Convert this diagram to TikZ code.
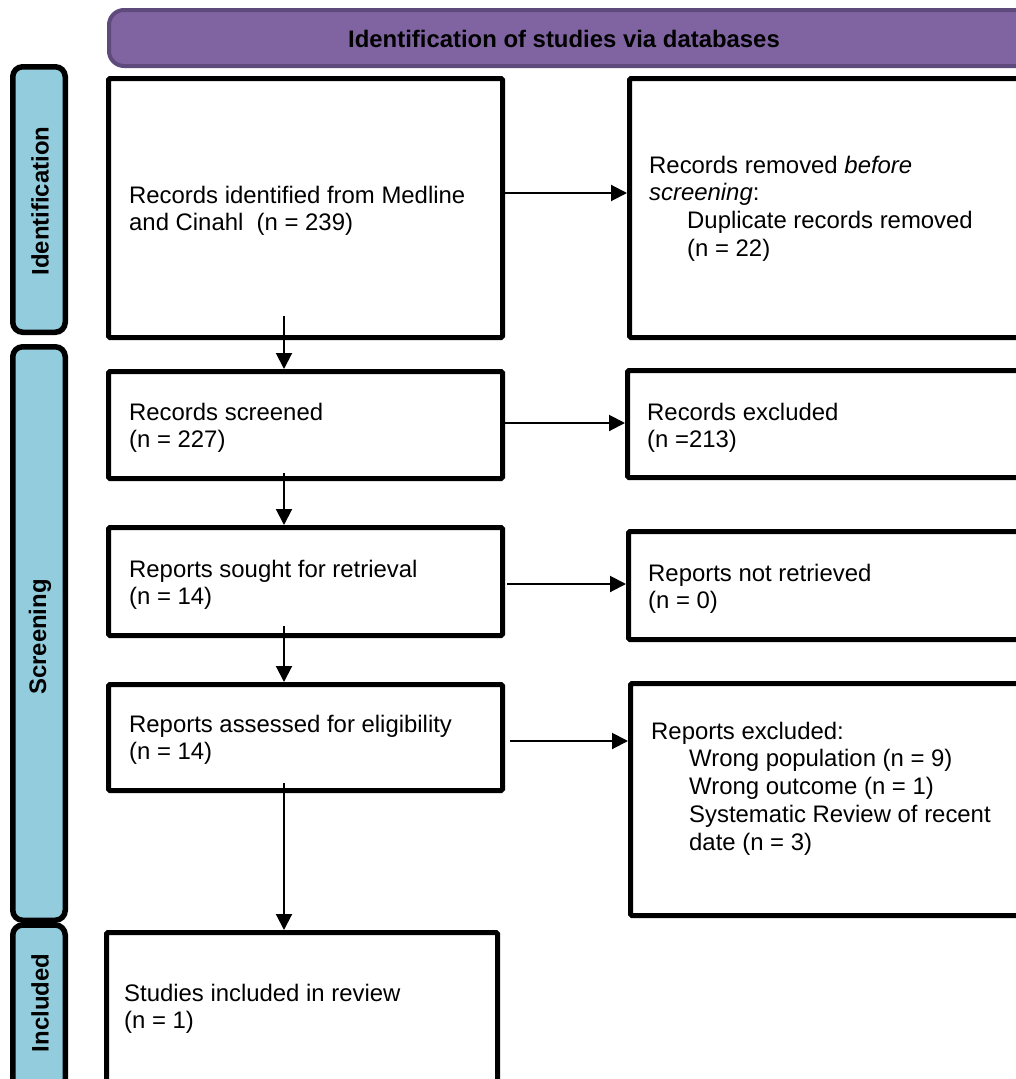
\documentclass[tikz,border=0pt]{standalone}
\usepackage{fontspec}
\setmainfont{Liberation Sans}
\usetikzlibrary{arrows.meta}
\definecolor{hdrfill}{HTML}{8064A2}
\definecolor{hdrline}{HTML}{5F4B7B}
\definecolor{sidefill}{HTML}{93CDDD}
\newcommand{\tlines}[1]{\vtop{\baselineskip=27.8pt\halign{##\hfil\cr#1\crcr}}}
\begin{document}
\begin{tikzpicture}[x=1pt,y=-1pt,
  box/.style={draw=black,line width=5pt,inner sep=0pt,rounded corners=1.5pt},
  txt/.style={anchor=base west,inner sep=0pt,font=\fontsize{23.9}{27.8}\selectfont},
  side/.style={draw=black,line width=5.5pt,fill=sidefill,rounded corners=10pt,inner sep=0pt},
  sidetxt/.style={rotate=90,inner sep=0pt,font=\bfseries\fontsize{23.9}{28}\selectfont},
  hdr/.style={draw=hdrline,line width=4pt,fill=hdrfill,rounded corners=15pt,inner sep=0pt},
  arr/.style={line width=2pt,-{Triangle[length=16pt,width=16pt]}},
]
\useasboundingbox (0,0) rectangle (1015,1079);

% header
\node[hdr,minimum width=931pt,minimum height=56pt] (hdr) at (574.5,38) {};
\node[inner sep=0pt,font=\bfseries\fontsize{23.9}{28}\selectfont] (hdrtxt) at (564,39) {Identification of studies via databases};

% side bars
\node[side,minimum width=52.5pt,minimum height=265.5pt] (sid) at (39,199.5) {};
\node[sidetxt] (sidt) at (40,201) {Identification};
\node[side,minimum width=52.5pt,minimum height=573.5pt] (sscr) at (39,633.5) {};
\node[sidetxt] (sscrt) at (40,637) {Screening};
\node[side,minimum width=52.5pt,minimum height=190pt] (sinc) at (39,1020) {};
\node[sidetxt] (sinct) at (40,1003) {Included};

% left column boxes
\node[box,minimum width=394pt,minimum height=259pt] (b1) at (305.5,208) {};
\node[box,minimum width=394pt,minimum height=107pt] (b2) at (305.5,425) {};
\node[box,minimum width=394pt,minimum height=108pt] (b3) at (305.5,581.5) {};
\node[box,minimum width=394pt,minimum height=106pt] (b4) at (305.5,737.5) {};
\node[box,minimum width=391pt,minimum height=177.5pt] (b5) at (302,1021.25) {};

% right column boxes
\node[box,minimum width=400.5pt,minimum height=259pt] (rem) at (829.75,208) {};
\node[box,minimum width=402.5pt,minimum height=107pt] (exc) at (828.75,424) {};
\node[box,minimum width=401.5pt,minimum height=108pt] (nr) at (829.25,585.5) {};
\node[box,minimum width=399.5pt,minimum height=232pt] (rx) at (830.25,799.5) {};

% texts
\node[txt] (t1) at (129,203) {\tlines{Records identified from Medline\cr and Cinahl\ \ (n = 239)}};
\node[txt] (trem) at (649,173) {\tlines{Records removed \textit{before}\cr \textit{screening}:\cr \hspace*{38pt}Duplicate records removed\cr \hspace*{38pt}(n = 22)}};
\node[txt] (t2) at (129,420) {\tlines{Records screened\cr (n = 227)}};
\node[txt] (texc) at (647,420) {\tlines{Records excluded\cr (n =213)}};
\node[txt] (t3) at (129,577) {\tlines{Reports sought for retrieval\cr (n = 14)}};
\node[txt] (tnr) at (648,581) {\tlines{Reports not retrieved\cr (n = 0)}};
\node[txt] (t4) at (129,732) {\tlines{Reports assessed for eligibility\cr (n = 14)}};
\node[txt] (trx) at (651,739) {\tlines{Reports excluded:\cr \hspace*{38pt}Wrong population (n = 9)\cr \hspace*{38pt}Wrong outcome (n = 1)\cr \hspace*{38pt}Systematic Review of recent\cr \hspace*{38pt}date (n = 3)}};
\node[txt] (t5) at (124,1001) {\tlines{Studies included in review\cr (n = 1)}};

% horizontal connectors
\coordinate (h1) at (505,193);
\coordinate (h2) at (505,423);
\coordinate (h3) at (507,584);
\coordinate (h4) at (510,741);
\draw[arr] (h1) -- (h1 -| rem.west);
\draw[arr] (h2) -- (h2 -| exc.west);
\draw[arr] (h3) -- (h3 -| nr.west);
\draw[arr] (h4) -- (h4 -| rx.west);

% vertical connectors
\coordinate (v1) at (284,316);
\coordinate (v2) at (284,473);
\coordinate (v3) at (284,626);
\coordinate (v4) at (284,783);
\draw[arr] (v1) -- (v1 |- b2.north);
\draw[arr] (v2) -- (v2 |- b3.north);
\draw[arr] (v3) -- (v3 |- b4.north);
\draw[arr] (v4) -- (v4 |- b5.north);
\end{tikzpicture}
\end{document}
